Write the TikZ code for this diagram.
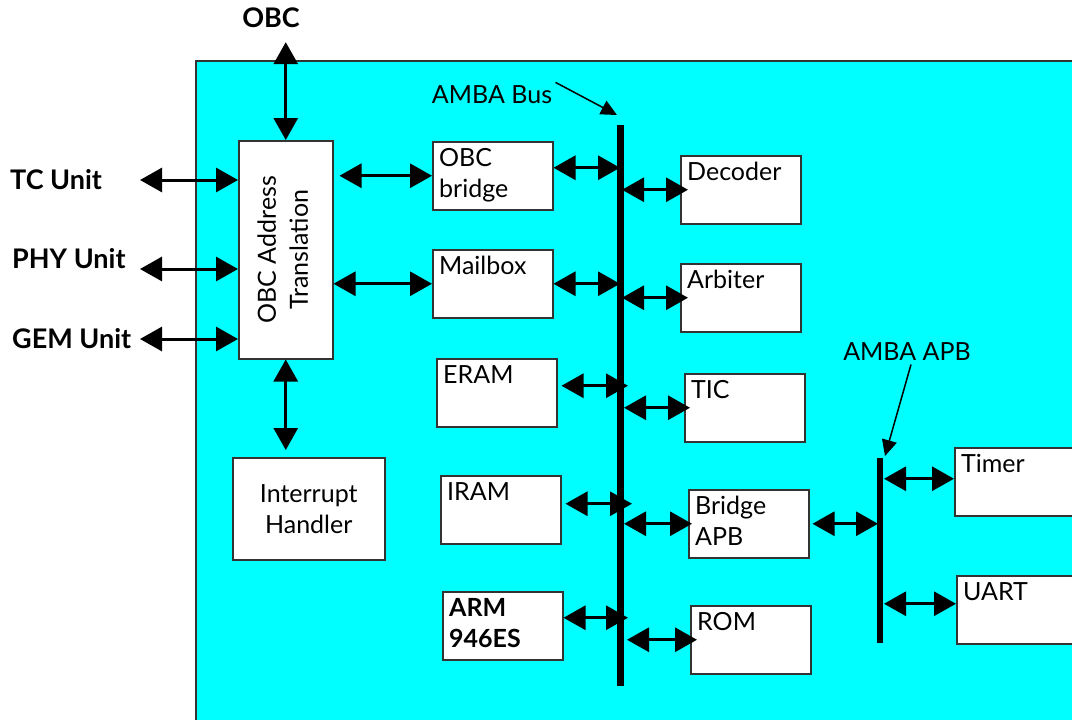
\documentclass[tikz,border=0pt]{standalone}
\usepackage{fontspec}
\setmainfont{Lato}
\usepackage{xcolor}
\definecolor{chipfill}{HTML}{00FFFF}
\definecolor{boxline}{HTML}{333333}
\usetikzlibrary{arrows.meta, positioning}

\tikzset{
  unit/.style={draw=boxline, fill=white, line width=1.5pt, minimum width=120pt,
    minimum height=68pt, anchor=north west, inner sep=0pt},
  tag/.style={anchor=north west, align=left, inner sep=7pt},
  ext/.style={font=\fontsize{27}{31}\selectfont\bfseries, inner sep=2pt},
  link/.style={line width=3pt, {Triangle[length=22pt,width=24pt]}-{Triangle[length=22pt,width=24pt]}},
  pointer/.style={line width=1.5pt, -{Triangle[length=16pt,width=15pt]}}
}

\begin{document}
\begin{tikzpicture}[x=1pt, y=-1pt, font=\fontsize{25}{31}\selectfont]
  \clip (0,0) rectangle (1072,720);
  % chip area
  \draw[draw=boxline, line width=1.5pt, fill=chipfill] (196,61) rectangle (1110,760);

  % outside units
  \node[ext] (obc) at (271,18) {OBC};
  \node[ext, anchor=west] (tc)  at (8,180) {TC Unit};
  \node[ext, anchor=west] (phy) at (10,259) {PHY Unit};
  \node[ext, anchor=west] (gem) at (10,339) {GEM Unit};
  \coordinate (extin) at (140,0);

  % translation and interrupt
  \node[draw=boxline, fill=white, line width=1.5pt, minimum width=94pt, minimum height=218pt,
    anchor=north west, inner sep=0pt] (obcat) at (238,140)
    {\rotatebox{90}{\begin{tabular}{@{}c@{}}OBC Address\\[1pt]Translation\end{tabular}}};
  \node[draw=boxline, fill=white, line width=1.5pt, minimum width=152pt, minimum height=102pt,
    anchor=north west, align=center] (irq) at (232,457) {Interrupt\\Handler};

  % AHB side
  \node[unit, label={[tag]north west:{OBC\\bridge}}] (obcbr) at (432,141) {};
  \node[unit, label={[tag]north west:Mailbox}] (mbox) at (432,249) {};
  \node[unit, label={[tag]north west:ERAM}] (eram) at (436,358) {};
  \node[unit, label={[tag]north west:IRAM}] (iram) at (440,475) {};
  \node[unit, label={[tag, font=\fontsize{25}{31}\selectfont\bfseries]north west:{ARM\\946ES}}] (arm) at (442,591) {};

  \node[unit, label={[tag]north west:Decoder}] (dec) at (680,155) {};
  \node[unit, label={[tag]north west:Arbiter}] (arb) at (680,263) {};
  \node[unit, label={[tag]north west:TIC}] (tic) at (684,373) {};
  \node[unit, label={[tag]north west:{Bridge\\APB}}] (brg) at (688,489) {};
  \node[unit, label={[tag]north west:ROM}] (rom) at (690,605) {};

  % APB side
  \node[unit, minimum width=140pt] (timer) at (954,447) {};
  \node[tag] at (timer.north west) {Timer};
  \node[unit, minimum width=140pt] (uart) at (956,575) {};
  \node[tag] at (uart.north west) {UART};

  % buses
  \coordinate (bustop) at (620,125);
  \coordinate (busbot) at (620,686);
  \draw[line width=7pt] (bustop) -- (busbot);
  \coordinate (apbtop) at (880,458);
  \coordinate (apbbot) at (880,643);
  \draw[line width=6pt] (apbtop) -- (apbbot);

  \node (buslbl) at (492,95) {AMBA Bus};
  \draw[pointer] (buslbl.north east) -- ([xshift=-3pt,yshift=10pt]bustop);
  \node (apblbl) at (907,352) {AMBA APB};
  \draw[pointer] ([xshift=4pt]apblbl.south) -- ([xshift=5pt,yshift=2pt]apbtop);

  % connections
  \draw[link] ([yshift=-12pt]obc.south -| obcat.north) -- (obcat.north);
  \draw[link] (tc.east -| extin) -- (tc.east -| obcat.west);
  \draw[link] ([yshift=-10pt]phy.east -| extin) -- ([yshift=-10pt]phy.east -| obcat.west);
  \draw[link] (gem.east -| extin) -- (gem.east -| obcat.west);
  \draw[link] (obcat.south) -- ([yshift=7pt]obcat.south |- irq.north);
  \draw[link] ([xshift=6pt]obcat.east |- obcbr.west) -- (obcbr.west);
  \draw[link] (obcat.east |- mbox.west) -- (mbox.west);

  \draw[link] ([yshift=8pt]obcbr.east) -- ([yshift=8pt]obcbr.east -| bustop);
  \draw[link] (mbox.east) -- (mbox.east -| bustop);
  \draw[link] ([xshift=4pt,yshift=7pt]eram.east) -- ([xshift=8pt,yshift=7pt]eram.east -| bustop);
  \draw[link] ([xshift=4pt,yshift=6pt]iram.east) -- ([xshift=12pt,yshift=6pt]iram.east -| bustop);
  \draw[link] ([yshift=8pt]arm.east) -- ([xshift=8pt,yshift=8pt]arm.east -| bustop);

  \draw[link] ([xshift=2pt]bustop |- dec.west) -- ([xshift=8pt]dec.west);
  \draw[link] ([xshift=2pt]bustop |- arb.west) -- ([xshift=8pt]arb.west);
  \draw[link] ([xshift=4pt]bustop |- tic.west) -- ([xshift=6pt]tic.west);
  \draw[link] ([xshift=4pt]bustop |- brg.west) -- ([xshift=4pt]brg.west);
  \draw[link] ([xshift=7pt]bustop |- rom.west) -- ([xshift=7pt]rom.west);

  \draw[link] ([xshift=3pt]brg.east) -- ([xshift=-2pt]brg.east -| apbtop);
  \draw[link] ([xshift=4pt,yshift=3pt]apbtop |- timer.west) -- ([yshift=3pt]timer.west);
  \draw[link] ([xshift=4pt,yshift=6pt]apbtop |- uart.west) -- ([yshift=6pt]uart.west);
\end{tikzpicture}
\end{document}
